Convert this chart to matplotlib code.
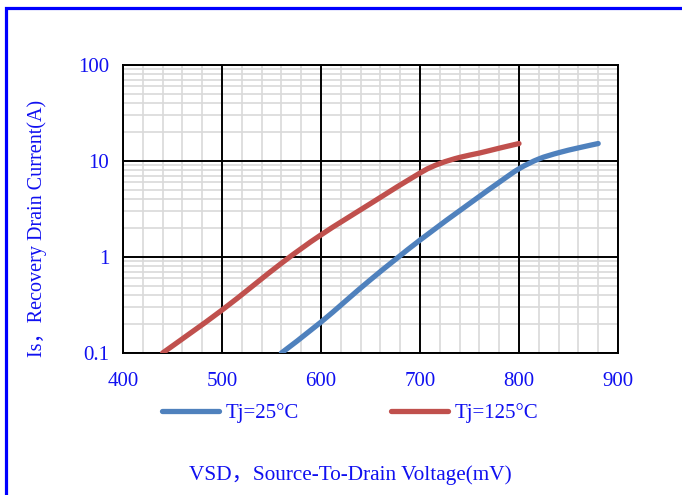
import numpy as np
import matplotlib.pyplot as plt
from matplotlib.patches import Rectangle, PathPatch
from matplotlib.path import Path
from matplotlib.lines import Line2D
from matplotlib.ticker import FixedLocator, NullFormatter

# forward voltage (mV) vs recovery drain current (A)
vsd_25 = [560, 600, 650, 700, 750, 780, 800, 820, 840, 860, 880]
is_25 = [0.1, 0.21, 0.58, 1.5, 3.6, 6.0, 8.3, 10.5, 12.2, 13.7, 15.2]

vsd_125 = [440, 500, 560, 600, 650, 700, 720, 740, 760, 780, 800]
is_125 = [0.1, 0.28, 0.86, 1.7, 3.6, 7.5, 9.4, 10.9, 12.1, 13.6, 15.2]

x_ticks = [400, 500, 600, 700, 800, 900]
y_ticks = [0.1, 1, 10, 100]
y_tick_labels = ["0.1", "1", "10", "100"]

text_blue = "#1010f0"
serif = ["Liberation Serif", "Noto Sans CJK SC"]
fs = 15


def smooth_path(xs, ys):
    """Catmull-Rom style bezier through the points, built in log-y space."""
    px = np.asarray(xs, float)
    py = np.log10(np.asarray(ys, float))
    n = len(px)
    verts = [(px[0], py[0])]
    codes = [Path.MOVETO]
    for i in range(n - 1):
        x0, y0 = (px[i - 1], py[i - 1]) if i > 0 else (px[i], py[i])
        x3, y3 = (px[i + 2], py[i + 2]) if i + 2 < n else (px[i + 1], py[i + 1])
        c1 = (px[i] + (px[i + 1] - x0) / 6, py[i] + (py[i + 1] - y0) / 6)
        c2 = (px[i + 1] - (x3 - px[i]) / 6, py[i + 1] - (y3 - py[i]) / 6)
        verts += [c1, c2, (px[i + 1], py[i + 1])]
        codes += [Path.CURVE4] * 3
    verts = [(vx, 10 ** vy) for vx, vy in verts]
    return Path(verts, codes)


fig = plt.figure(figsize=(6.82, 4.95), dpi=100)
ax = fig.add_axes([123 / 682, 1 - 353 / 495, 495 / 682, 288 / 495])

ax.set_yscale("log")
ax.set_xlim(400, 900)
ax.set_ylim(0.1, 100)

ax.xaxis.set_major_locator(FixedLocator(x_ticks))
ax.xaxis.set_minor_locator(FixedLocator([v for v in range(400, 901, 20) if v % 100]))
ax.yaxis.set_major_locator(FixedLocator(y_ticks))
ax.yaxis.set_minor_locator(FixedLocator([m * d for d in (0.1, 1, 10) for m in range(2, 10)]))
ax.yaxis.set_minor_formatter(NullFormatter())
ax.set_yticklabels(y_tick_labels)

# light minor grid underneath, black major lines on top of it
ax.grid(which="minor", color="#d9d9d9", linewidth=1.2)
ax.set_axisbelow(True)
for xv in x_ticks:
    ax.axvline(xv, color="black", linewidth=1.4, zorder=1)
for yv in y_ticks:
    ax.axhline(yv, color="black", linewidth=1.4, zorder=1)

ax.tick_params(which="both", length=0)
ax.tick_params(axis="x", pad=14)
ax.tick_params(axis="y", pad=10)
for lbl in ax.get_xticklabels() + ax.get_yticklabels():
    lbl.set_fontfamily(serif)
    lbl.set_fontsize(fs)
    lbl.set_color(text_blue)
for sp in ax.spines.values():
    sp.set_color("black")
    sp.set_linewidth(1.4)

c25, c125 = "#4f81bd", "#c0504d"
for xs, ys, c in ((vsd_25, is_25, c25), (vsd_125, is_125, c125)):
    ax.add_patch(PathPatch(smooth_path(xs, ys), fill=False, edgecolor=c,
                           linewidth=3.8, capstyle="round", zorder=3))

handles = [Line2D([], [], color=c25, linewidth=3.8, solid_capstyle="round"),
           Line2D([], [], color=c125, linewidth=3.8, solid_capstyle="round")]
leg = fig.legend(handles, ["Tj=25\u00b0C", "Tj=125\u00b0C"], loc="center",
                 bbox_to_anchor=(350 / 682, 1 - 413 / 495), ncol=2,
                 frameon=False, handlelength=2.75, handletextpad=0.3,
                 columnspacing=4.4, borderpad=0, prop={"family": serif, "size": fs})
for t in leg.get_texts():
    t.set_color(text_blue)

fig.text(350 / 682, 1 - 475 / 495, "VSD\uff0cSource-To-Drain Voltage(mV)",
         ha="center", va="center", fontsize=15.3, family=serif, color=text_blue)
fig.text(37 / 682, 1 - 228 / 495, "Is\uff0cRecovery Drain Current(A)",
         ha="center", va="center", rotation=90, fontsize=14.5, family=serif,
         color=text_blue)

# blue frame around the chart area
fig.add_artist(Rectangle((6 / 682, -0.1), 1.2, 1.1 - 7.5 / 495, transform=fig.transFigure,
                         fill=False, edgecolor="#0000ff", linewidth=2.3))

fig.savefig("out.png", dpi=100)
